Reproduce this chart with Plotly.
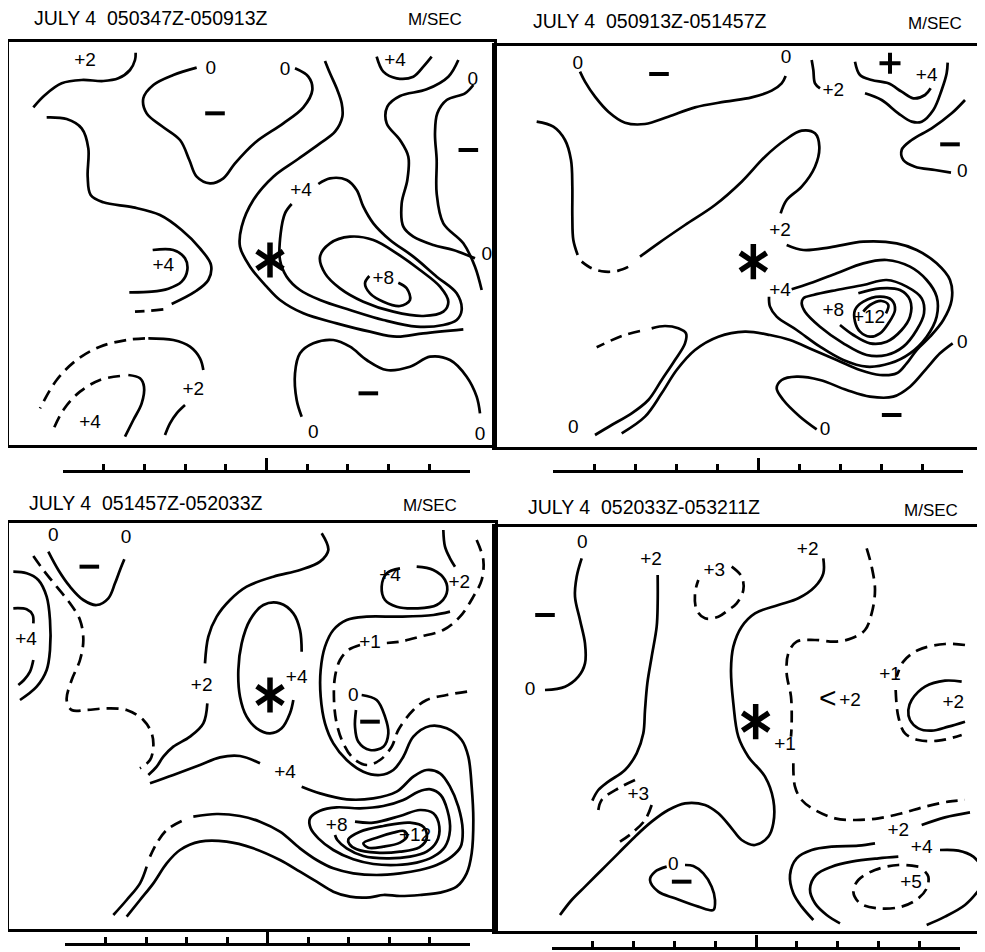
import plotly.graph_objects as go

W, H = 985, 952          # browser window
PAGE_MARGIN = 8          # default body margin of the html page
FIG_W, FIG_H = W - PAGE_MARGIN, H - PAGE_MARGIN
FONT = "Liberation Sans, Arial, sans-serif"

TITLES = ["JULY 4\u00a0\u00a0050347Z-050913Z", "JULY 4\u00a0\u00a0050913Z-051457Z",
          "JULY 4\u00a0\u00a0051457Z-052033Z", "JULY 4\u00a0\u00a0052033Z-053211Z"]
UNITS = "M/SEC"

P1_SOLID = [
    [(100,322),(135,285),(185,250),(245,240),(310,243),(355,235),(390,210),(405,180),(407,158)],
    [(140,352),(200,357),(245,385),(265,445),(263,530),(272,585),(310,607),(400,622),(480,645),(545,690),(600,745),(633,795),(625,840),(585,875),(515,912)],
    [(458,750),(520,750),(555,775),(562,810),(545,845),(505,866),(455,875),(388,877)],
    [(590,203),(520,225),(460,255),(430,295),(440,340),(485,378),(540,420),(568,480),(590,530),(630,550),(670,535),(705,490),(765,428),(850,370),(910,322),(937,270),(925,230),(885,205)],
    [(975,183),(990,220),(1010,265),(1025,310),(1027,350),(1005,395),(960,430),(890,480),(820,530),(760,600),(725,680),(720,740),(750,800),(800,860),(840,900),(910,940),(1010,970),(1110,995),(1190,1010),(1270,1000),(1390,988)],
    [(955,552),(990,535),(1040,540),(1070,570),(1090,620),(1120,670),(1170,720),(1240,770),(1310,830),(1370,880),(1385,930),(1370,960),(1330,975),(1250,980),(1150,960),(1050,930),(960,900),(900,870),(860,830),(840,780),(842,700),(855,640),(875,612)],
    [(960,770),(990,730),(1050,710),(1120,720),(1190,760),(1260,810),(1320,860),(1345,905),(1330,935),(1270,948),(1180,935),(1090,905),(1020,865),(975,820),(960,770)],
    [(1108,828),(1095,850),(1110,880),(1150,905),(1200,918),(1230,900),(1220,865),(1195,848)],
    [(1130,170),(1150,215),(1190,235),(1240,230),(1270,200),(1295,170)],
    [(1375,180),(1345,230),(1280,268),(1200,288),(1162,320),(1160,370),(1200,420),(1225,470),(1222,540),(1205,610),(1210,680),(1240,710),(1300,735),(1360,750),(1425,775)],
    [(1420,255),(1395,280),(1340,300),(1312,340),(1305,400),(1310,480),(1310,580),(1330,670),(1390,730),(1425,800),(1445,870)],
    [(905,1250),(890,1200),(885,1120),(900,1060),(940,1030),(1000,1020),(1050,1040),(1100,1080),(1160,1110),(1230,1100),(1290,1070),(1350,1080),(1400,1130),(1430,1190),(1440,1240)],
    [(445,1015),(520,1020),(570,1040),(600,1075),(610,1110)],
    [(375,1310),(400,1260),(425,1210),(432,1160),(420,1135),(385,1125)],
    [(495,1305),(510,1270),(530,1240),(555,1215)],
]
P1_DASHED = [
    [(490,928),(450,932),(405,935)],
    [(435,1015),(380,1020),(300,1040),(230,1080),(170,1140),(120,1225)],
    [(360,1128),(300,1140),(240,1175),(190,1230),(155,1300)],
]
P1_LABELS = [("+2",255,183),("0",632,208),("0",855,210),("+4",1185,185),("0",1418,240),
             ("+4",903,575),("+4",490,800),("+8",1150,838),("0",1460,765),("+2",580,1170),
             ("+4",270,1270),("0",940,1300),("0",1440,1305)]
P1_BIG = []
P1_MINUS = [(645,340),(1405,450),(1105,1180)]
P1_PLUS = []
P1_STAR = (810,780)

P2_SOLID = [
    [(285,215),(300,245),(330,290),(370,335),(420,368),(480,372),(550,350),(630,322),(720,305),(800,292),(860,272),(890,250),(902,228)],
    [(155,365),(205,380),(240,420),(258,480),(262,560),(262,650),(265,720),(278,765)],
    [(465,770),(520,730),(600,675),(690,615),(770,545),(840,470),(900,420),(950,392),(990,400),(1003,440),(990,500),(950,560),(905,600),(887,640)],
    [(905,735),(955,750),(1035,742),(1135,725),(1235,730),(1295,750),(1355,790),(1395,840),(1400,900),(1375,960),(1335,1010),(1295,1050),(1265,1090),(1235,1120),(1185,1125),(1125,1110),(1055,1080),(985,1050),(915,1020),(855,1005),(780,995),(700,1010),(630,1050),(575,1110),(530,1180),(480,1250),(410,1300)],
    [(920,868),(975,850),(1055,820),(1135,790),(1205,780),(1275,800),(1325,840),(1355,890),(1355,950),(1325,1010),(1275,1060),(1215,1090),(1145,1100),(1075,1080),(1005,1040),(935,990),(875,950),(855,920),(852,890)],
    [(955,895),(985,885),(1055,870),(1135,855),(1205,840),(1265,860),(1310,895),(1317,940),(1295,990),(1255,1040),(1205,1065),(1145,1065),(1075,1030),(1005,980),(960,935),(950,910),(955,895)],
    [(1120,880),(1185,865),(1245,870),(1275,900),(1275,950),(1250,990),(1205,1025),(1155,1030),(1105,1005),(1065,975)],
    [(1110,930),(1135,905),(1185,890),(1220,900),(1230,930),(1210,970),(1185,1000),(1155,1010),(1125,995),(1110,965),(1110,930)],
    [(1135,935),(1155,915),(1190,903),(1210,915),(1203,940)],
    [(995,1288),(945,1250),(895,1200),(875,1165),(890,1140),(935,1130),(1005,1140),(1085,1170),(1155,1190),(1225,1190),(1275,1160),(1325,1105),(1365,1060),(1403,1030)],
    [(330,1305),(380,1275),(440,1240),(490,1200),(530,1140),(570,1080),(600,1030),(603,1000),(580,985),(540,978),(500,985)],
    [(980,180),(985,210),(990,250),(1005,265)],
    [(1110,185),(1125,225),(1160,240),(1210,250),(1250,275),(1285,295),(1320,285),(1337,265)],
    [(1140,280),(1190,300),(1240,340),(1280,365),(1310,365),(1345,330),(1370,270),(1385,220),(1388,188)],
    [(1440,300),(1400,340),(1340,385),(1280,420),(1250,450),(1255,480),(1290,500),(1350,510),(1398,518)],
]
P2_DASHED = [
    [(290,785),(320,805),(360,815),(400,812),(435,798)],
    [(465,993),(410,1008),(335,1042)],
]
P2_LABELS = [("0",278,192),("0",903,175),("+2",1045,275),("+4",1325,228),("0",1432,518),
             ("+2",885,695),("+4",885,875),("+8",1045,935),("+12",1152,955),("0",1432,1030),
             ("0",265,1285),("0",1020,1290)]
P2_BIG = []
P2_MINUS = [(522,222),(1395,433),(1220,1245)]
P2_PLUS = [(1215,190)]
P2_STAR = (805,785)

P3_SOLID = [
    [(40,305),(80,310),(115,330),(140,380),(150,450),(150,540),(140,600),(110,650),(60,690)],
    [(40,415),(80,418),(98,435),(100,460)],
    [(100,570),(90,605),(72,630),(55,645)],
    [(145,245),(175,300),(210,350),(250,390),(290,405),(325,385),(345,340),(360,300),(373,268)],
    [(965,190),(985,240),(960,275),(900,300),(820,320),(740,350),(690,390),(650,440),(625,500),(615,580)],
    [(622,700),(610,760),(570,800),(520,830),(490,860),(470,890),(445,915)],
    [(905,545),(900,480),(880,430),(840,400),(790,405),(750,450),(725,520),(715,600),(720,680),(740,740),(770,775),(810,790),(845,775),(870,730),(880,690)],
    [(450,940),(520,915),(600,885),(660,862),(720,858),(780,880)],
    [(1330,180),(1335,230),(1350,265),(1365,290)],
    [(1200,295),(1160,310),(1145,350),(1155,390),(1190,410),(1250,415),(1310,405),(1340,370),(1335,330),(1300,300),(1250,290)],
    [(1085,675),(1130,690),(1155,740),(1165,790),(1150,830),(1110,840),(1075,815),(1065,770),(1068,720)],
    [(1350,425),(1300,435),(1200,440),(1100,440),(1040,450),(1000,480),(975,530),(962,600),(962,680),(975,760),(1000,820),(1040,870),(1090,905),(1140,915),(1180,900),(1210,860),(1240,800),(1290,768),(1340,775),(1385,810),(1405,860),(1415,950),(1420,1050),(1415,1150),(1400,1210),(1370,1250),(1320,1268),(1260,1275),(1200,1278),(1150,1275),(1110,1282),(1050,1280),(1000,1265),(950,1235),(900,1205),(840,1170),(760,1135),(680,1115),(600,1115),(540,1140),(500,1180),(460,1240),(420,1290),(380,1340)],
    [(905,950),(960,970),(1040,988),(1120,985),(1190,965),(1240,920),(1280,900),(1320,910),(1350,950),(1375,1010),(1388,1080),(1382,1130),(1355,1160),(1310,1185),(1260,1200),(1200,1210),(1130,1215),(1060,1210),(1000,1195),(950,1170),(900,1135),(840,1085),(780,1055),(720,1038),(650,1032),(580,1040)],
    [(440,1190),(420,1240),(380,1290),(340,1335)],
    [(930,1045),(960,1022),(1010,1012),(1080,1015),(1150,1008),(1210,990),(1255,965),(1292,958),(1322,975),(1342,1020),(1350,1080),(1335,1130),(1300,1160),(1250,1178),(1190,1185),(1120,1182),(1060,1168),(1000,1140),(955,1105),(932,1075),(930,1045)],
    [(1065,1055),(1120,1058),(1200,1038),(1260,1020),(1300,1030),(1318,1070),(1310,1115),(1280,1145),(1230,1160),(1160,1165),(1090,1158),(1040,1135),(1012,1110),(1005,1095)],
    [(1045,1108),(1080,1085),(1150,1068),(1230,1058),(1272,1072),(1280,1105),(1258,1132),(1200,1145),(1130,1148),(1070,1138),(1048,1122),(1045,1108)],
    [(1090,1120),(1130,1103),(1180,1088),(1212,1083),(1222,1097),(1200,1118),(1150,1130),(1105,1133),(1090,1120)],
]
P3_DASHED = [
    [(100,258),(130,300),(170,350),(210,400),(240,450),(250,510),(240,570),(215,630),(200,690),(215,720),(260,720),(320,715),(380,720),(430,750),(455,790),(460,830),(450,870),(420,895)],
    [(1430,210),(1450,270),(1445,330),(1420,380),(1380,440),(1330,480),(1260,500),(1200,515),(1140,520)],
    [(1080,525),(1045,540),(1020,570),(1005,620),(1002,690),(1010,760),(1030,820),(1060,865),(1100,885),(1140,870),(1175,830),(1195,780),(1240,720),(1280,690),(1340,675),(1420,662)],
    [(545,1053),(500,1080),(470,1120),(450,1160)],
]
P3_LABELS = [("0",160,200),("0",378,205),("+4",78,510),("+4",1170,318),("+2",1378,340),
             ("+1",1110,520),("+2",605,650),("+4",890,625),("0",1060,680),("+4",855,910),
             ("+8",1010,1070),("+12",1245,1100)]
P3_BIG = []
P3_MINUS = [(268,290),(1110,755)]
P3_PLUS = []
P3_STAR = (810,675)

P4_SOLID = [
    [(290,265),(275,320),(270,380),(285,450),(300,520),(300,580),(280,620),(240,650),(180,660)],
    [(518,315),(518,400),(515,470),(500,560),(487,640),(480,720),(475,790),(455,850),(420,900),(370,935),(340,960),(322,992)],
    [(1015,265),(1015,310),(990,350),(940,385),(880,405),(810,430),(770,470),(745,530),(738,600),(745,700),(760,800),(790,860),(840,920),(865,990),(865,1060),(850,1100),(810,1125),(770,1110),(740,1075),(700,1030),(660,1005),(600,1000),(550,1020),(500,1055),(450,1100),(400,1150),(350,1200),(300,1250),(260,1290),(225,1335)],
    [(545,1190),(510,1205),(495,1230),(520,1265),(570,1285),(640,1310),(685,1320),(690,1290),(680,1250),(655,1210),(625,1188),(600,1185)],
    [(1430,635),(1380,632),(1320,650),(1280,690),(1270,720),(1275,750),(1300,775),(1340,782),(1390,770),(1440,755)],
    [(1310,1065),(1380,1042),(1455,1027)],
    [(1170,1120),(1120,1127),(1040,1130),(980,1140),(935,1165),(915,1215),(925,1270),(950,1310),(985,1350)],
    [(1240,1160),(1180,1165),(1100,1175),(1040,1190),(993,1215),(975,1258),(990,1300),(1025,1335),(1065,1360)],
    [(1365,1140),(1420,1142),(1465,1160),(1490,1190)],
    [(1325,1365),(1380,1340),(1440,1305),(1478,1265),(1495,1240)],
]
P4_DASHED = [
    [(450,930),(400,955),(350,990),(340,1020)],
    [(500,1005),(480,1050),(440,1090),(405,1115)],
    [(740,290),(770,320),(775,360),(755,400),(730,420),(700,440),(660,445),(635,420),(630,370),(640,330)],
    [(1145,235),(1160,290),(1170,360),(1160,430),(1140,480),(1100,505),(1050,515),(990,510),(935,515),(910,550),(905,610),(918,680),(920,760),(918,800)],
    [(925,880),(930,950),(950,990),(990,1020),(1050,1045),(1110,1050),(1180,1045),(1250,1030),(1320,1010),(1390,995),(1440,990)],
    [(1440,525),(1380,522),(1300,540),(1255,575),(1235,620)],
    [(1232,660),(1240,740),(1260,790),(1300,810),(1360,812),(1430,795)],
    [(1300,1190),(1240,1185),(1170,1200),(1120,1230),(1105,1265),(1125,1300),(1180,1315),(1250,1310),(1300,1285),(1325,1255),(1330,1220),(1310,1195)],
]
P4_LABELS = [("0",292,220),("+2",498,272),("+3",688,303),("+2",968,240),("0",135,660),
             ("+1",1215,615),("+2",1095,693),("+2",1405,700),("+1",900,825),
             ("+3",460,975),("+2",1240,1085),("+4",1310,1135),("+5",1278,1240),("0",565,1185)]
P4_BIG = [("<",1028,690)]
P4_MINUS = [(180,435),(590,1235)]
P4_PLUS = []
P4_STAR = (812,755)

PANELS = [
    (P1_SOLID, P1_DASHED, P1_LABELS, P1_BIG, P1_MINUS, P1_PLUS, P1_STAR),
    (P2_SOLID, P2_DASHED, P2_LABELS, P2_BIG, P2_MINUS, P2_PLUS, P2_STAR),
    (P3_SOLID, P3_DASHED, P3_LABELS, P3_BIG, P3_MINUS, P3_PLUS, P3_STAR),
    (P4_SOLID, P4_DASHED, P4_LABELS, P4_BIG, P4_MINUS, P4_PLUS, P4_STAR),
]

# scale bar: 10 divisions, long tick at the middle
SCALE_MIN, SCALE_MAX, SCALE_STEP, SCALE_MID = 0, 100, 10, 50

# ---------------- layout geometry (window pixels) ----------------
BOX = [(9, 42, 494, 445), (495, 46, 982, 447), (9, 523, 495, 929), (495, 527, 982, 931)]
GRID_ORIGIN = [(0, 0), (485, 0), (0, 470), (485, 470)]
GRID_SCALE = 3
BAR = [(63, 470, 470), (553, 963, 470), (65, 470, 943), (552, 960, 947)]
TITLE_POS = [(32, 18), (531, 21), (27, 503), (526, 507)]
UNIT_POS = [(406, 19), (906, 23), (401, 505), (902, 510)]

def px(x):
    return min(max((x - PAGE_MARGIN) / FIG_W, 0), 1)

def py(y):
    return min(max(1 - (y - PAGE_MARGIN) / FIG_H, 0), 1)

fig = go.Figure()
LW = 2.7

for i, (solid, dashed, labels, big, minus, plus, star) in enumerate(PANELS, start=1):
    xa, ya = f"x{i}", f"y{i}"
    for pts, dash in [(p, "solid") for p in solid] + [(p, "12px,7px") for p in dashed]:
        fig.add_trace(go.Scatter(
            x=[p[0] for p in pts], y=[p[1] for p in pts], mode="lines",
            line=dict(color="black", width=LW, shape="spline", smoothing=1.0, dash=dash),
            xaxis=xa, yaxis=ya, hoverinfo="skip", showlegend=False))
    fig.add_trace(go.Scatter(
        x=[l[1] for l in labels], y=[l[2] for l in labels], text=[l[0] for l in labels],
        mode="text", textfont=dict(family=FONT, size=19, color="black"),
        xaxis=xa, yaxis=ya, hoverinfo="skip", showlegend=False, cliponaxis=False))
    if big:
        fig.add_trace(go.Scatter(
            x=[l[1] for l in big], y=[l[2] for l in big], text=[l[0] for l in big],
            mode="text", textfont=dict(family=FONT, size=30, color="black"),
            xaxis=xa, yaxis=ya, hoverinfo="skip", showlegend=False, cliponaxis=False))
    if minus:
        fig.add_trace(go.Scatter(
            x=[m[0] for m in minus], y=[m[1] for m in minus], mode="markers",
            marker=dict(symbol="line-ew-open", size=14, color="black",
                        line=dict(color="black", width=4)),
            xaxis=xa, yaxis=ya, hoverinfo="skip", showlegend=False))
    if plus:
        fig.add_trace(go.Scatter(
            x=[m[0] for m in plus], y=[m[1] for m in plus], mode="markers",
            marker=dict(symbol="cross-thin-open", size=15, color="black",
                        line=dict(color="black", width=4)),
            xaxis=xa, yaxis=ya, hoverinfo="skip", showlegend=False))
    for sym in ["y-up-open", "y-down-open"]:
        fig.add_trace(go.Scatter(
            x=[star[0]], y=[star[1]], mode="markers",
            marker=dict(symbol=sym, size=22, color="black", line=dict(color="black", width=5.5)),
            xaxis=xa, yaxis=ya, hoverinfo="skip", showlegend=False))

    L, T, R, B = BOX[i - 1]
    ox, oy = GRID_ORIGIN[i - 1]
    ax = dict(showgrid=False, zeroline=False, showticklabels=False, ticks="",
              showline=True, mirror=True, linecolor="black", linewidth=2.5)
    fig.update_layout({
        f"xaxis{i}": dict(ax, domain=[px(L), px(R)], anchor=ya,
                          range=[(L - ox) * GRID_SCALE, (R - ox) * GRID_SCALE]),
        f"yaxis{i}": dict(ax, domain=[py(B), py(T)], anchor=xa,
                          range=[(B - oy) * GRID_SCALE, (T - oy) * GRID_SCALE]),
    })

    # scale bar drawn as its own axis
    j = i + 4
    bx0, bx1, by = BAR[i - 1]
    fig.add_trace(go.Scatter(x=[SCALE_MIN, SCALE_MAX], y=[0, 0], mode="markers",
                             marker=dict(opacity=0), xaxis=f"x{j}", yaxis=f"y{j}",
                             hoverinfo="skip", showlegend=False))
    fig.update_layout({
        f"xaxis{j}": dict(domain=[px(bx0), px(bx1)], anchor=f"y{j}", range=[SCALE_MIN, SCALE_MAX],
                          showgrid=False, zeroline=False, showticklabels=False,
                          showline=True, linecolor="black", linewidth=2.5,
                          tickmode="array", tickvals=[SCALE_MID], ticks="inside",
                          ticklen=12, tickwidth=2.5, tickcolor="black",
                          minor=dict(ticks="inside", dtick=SCALE_STEP, tick0=SCALE_MIN,
                                     ticklen=6, tickwidth=2.5, tickcolor="black", showgrid=False)),
        f"yaxis{j}": dict(domain=[py(by), py(by - 14)], anchor=f"x{j}", range=[0, 1],
                          visible=False),
    })

    tx, ty = TITLE_POS[i - 1]
    ux, uy = UNIT_POS[i - 1]
    fig.add_annotation(x=px(tx), y=py(ty), xref="paper", yref="paper", text=TITLES[i - 1],
                       showarrow=False, xanchor="left", yanchor="middle",
                       font=dict(family=FONT, size=19.5, color="black"))
    fig.add_annotation(x=px(ux), y=py(uy), xref="paper", yref="paper", text=UNITS,
                       showarrow=False, xanchor="left", yanchor="middle",
                       font=dict(family=FONT, size=17, color="black"))

fig.update_layout(width=FIG_W, height=FIG_H, margin=dict(l=0, r=0, t=0, b=0),
                  paper_bgcolor="white", plot_bgcolor="white", showlegend=False)

fig.write_html("out.html")
